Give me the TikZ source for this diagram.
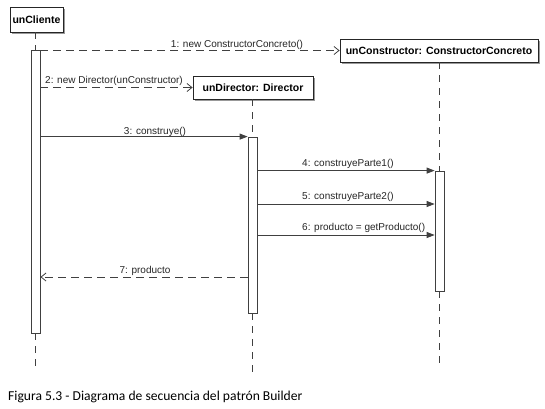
\documentclass[tikz,border=0pt]{standalone}
\usepackage{fontspec}
\setmainfont{Liberation Sans}
\newfontfamily\capfont{Carlito}
\usetikzlibrary{arrows.meta,shadows}
\begin{document}
\begin{tikzpicture}[x=1pt,y=-1pt,
  obj/.style={draw=black!85, line width=0.8pt, fill=white, inner sep=0pt,
    font=\fontsize{10.5}{12}\selectfont\bfseries,
    drop shadow={shadow xshift=2pt,shadow yshift=-2pt,fill=black!40,opacity=1}},
  act/.style={draw=black!75, line width=0.8pt, fill=white, minimum width=9pt, inner sep=0pt},
  life/.style={draw=black!75, line width=0.8pt, dash pattern=on 7pt off 6pt},
  sync/.style={draw=black!75, line width=0.8pt, -{Triangle[length=8pt,width=6pt]}},
  async/.style={draw=black!75, line width=0.8pt, dash pattern=on 8pt off 5pt, -{Straight Barb[length=5pt,width=8pt]}},
  lbl/.style={font=\fontsize{10}{12}\selectfont, text=black!85, inner sep=0pt}
]
\useasboundingbox (0,0) rectangle (545,408);
\fill[white] (0,0) rectangle (545,408);

% objects
\node[obj, minimum width=53pt, minimum height=25pt] (cli) at (36.5,19.5) {unCliente};
\node[obj, minimum width=198pt, minimum height=23pt] (ctor) at (439,50.5) {unConstructor: ConstructorConcreto};
\node[obj, minimum width=120pt, minimum height=23pt] (dir) at (253,87.5) {unDirector: Director};

% activations
\node[act, minimum height=283pt] (aC) at (35.5,191.5) {};
\node[act, minimum height=176pt] (aD) at (252.5,225) {};
\node[act, minimum height=120pt] (aK) at (439.5,231) {};

% lifeline ends
\coordinate (eC) at (35.5,372);
\coordinate (eD) at (252.5,372);
\coordinate (eK) at (439.5,366);

\draw[life] (cli.south -| aC.north) -- (aC.north);
\draw[life] (aC.south) -- (eC);
\draw[life] (dir.south -| aD.north) -- (aD.north);
\draw[life] (aD.south) -- (eD);
\draw[life] (ctor.south -| aK.north) -- (aK.north);
\draw[life] (aK.south) -- (eK);

% messages
\coordinate (m1) at (aC.east |- ctor.west);
\draw[async] (m1) -- (ctor.west);
\node[lbl, anchor=base] (l1) at (237,47) {1: new ConstructorConcreto()};

\coordinate (m2) at (aC.east |- dir.west);
\draw[async] (m2) -- (dir.west);
\node[lbl, anchor=base west] (l2) at (45,83) {2: new Director(unConstructor)};

\coordinate (m3s) at (aC.east |- aD.north);
\draw[sync] (m3s) -- (aD.north west);
\node[lbl, anchor=base] (l3) at (155,134) {3: construye()};

\coordinate (m4s) at (aD.east |- aK.north);
\draw[sync] (m4s) -- (aK.north west);
\node[lbl, anchor=base west] (l4) at (302,166) {4: construyeParte1()};

\coordinate (m5s) at (aD.east |- 0,204);
\coordinate (m5e) at (aK.west |- 0,204);
\draw[sync] (m5s) -- (m5e);
\node[lbl, anchor=base west] (l5) at (302,199) {5: construyeParte2()};

\coordinate (m6s) at (aD.east |- 0,235);
\coordinate (m6e) at (aK.west |- 0,235);
\draw[sync] (m6s) -- (m6e);
\node[lbl, anchor=base west] (l6) at (302,230) {6: producto = getProducto()};

\coordinate (m7s) at (aD.west |- 0,277);
\coordinate (m7e) at (aC.east |- 0,277);
\draw[async] (m7s) -- (m7e);
\node[lbl, anchor=base] (l7) at (145,273) {7: producto};

% caption
\node[anchor=base west, inner sep=0pt, font=\capfont\fontsize{13.6}{16}\selectfont] (cap) at (8,400) {Figura 5.3 - Diagrama de secuencia del patrón Builder};
\end{tikzpicture}
\end{document}
